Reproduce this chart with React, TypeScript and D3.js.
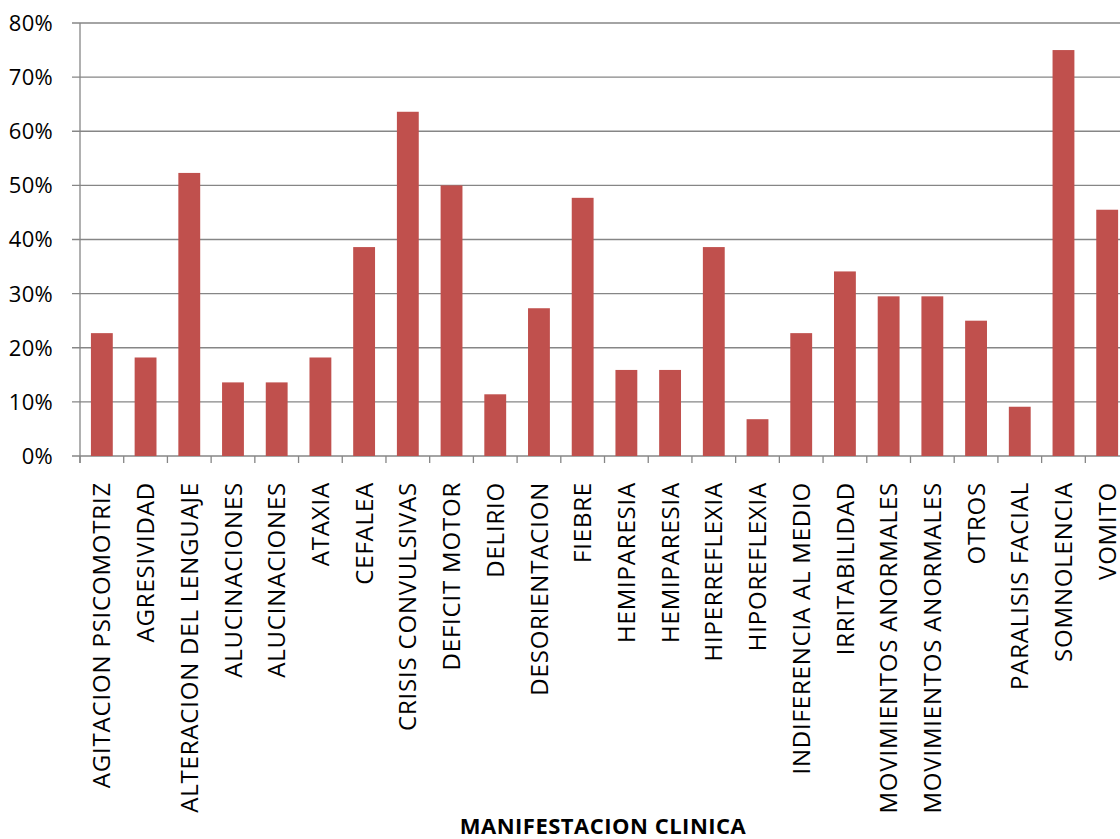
import React from "react";
import * as d3 from "d3";

const categories = [
  "AGITACION PSICOMOTRIZ",
  "AGRESIVIDAD",
  "ALTERACION DEL LENGUAJE",
  "ALUCINACIONES",
  "ALUCINACIONES",
  "ATAXIA",
  "CEFALEA",
  "CRISIS CONVULSIVAS",
  "DEFICIT MOTOR",
  "DELIRIO",
  "DESORIENTACION",
  "FIEBRE",
  "HEMIPARESIA",
  "HEMIPARESIA",
  "HIPERREFLEXIA",
  "HIPOREFLEXIA",
  "INDIFERENCIA AL MEDIO",
  "IRRITABILIDAD",
  "MOVIMIENTOS ANORMALES",
  "MOVIMIENTOS ANORMALES",
  "OTROS",
  "PARALISIS FACIAL",
  "SOMNOLENCIA",
  "VOMITO",
];

const values = [
  0.227, 0.182, 0.523, 0.136, 0.136, 0.182, 0.386, 0.636, 0.5, 0.114, 0.273, 0.477,
  0.159, 0.159, 0.386, 0.068, 0.227, 0.341, 0.295, 0.295, 0.25, 0.091, 0.75, 0.455,
];

const yTicks = [0, 0.1, 0.2, 0.3, 0.4, 0.5, 0.6, 0.7, 0.8];

const xAxisTitle = "MANIFESTACION CLINICA";

const W = 1120;
const H = 839;
const left = 80;
const top = 23;
const bottom = 456;
const bandW = 43.71;
const right = left + bandW * categories.length;

const FONT = "'Open Sans', sans-serif";

export default function App() {
  const ids = categories.map((_, i) => String(i));
  const x = d3.scaleBand<string>().domain(ids).range([left, right]).paddingInner(0.5).paddingOuter(0.25);
  const y = d3.scaleLinear().domain([0, 0.8]).range([bottom, top]);
  const fmt = d3.format(".0%");

  return (
    <svg
      width={W}
      height={H}
      style={{ position: "absolute", left: 0, top: 0, background: "#fff" }}
      fontFamily={FONT}
    >
      {yTicks.map((t) => (
        <g key={t}>
          <line x1={left - 8} x2={W + 20} y1={y(t)} y2={y(t)} stroke="#868686" strokeWidth={1.3} />
          <text x={53} y={y(t)} dy="0.36em" textAnchor="end" fontSize={22} letterSpacing={0.3} fill="#000">
            {fmt(t)}
          </text>
        </g>
      ))}
      <line x1={left} x2={left} y1={top} y2={bottom + 7} stroke="#868686" strokeWidth={1.3} />
      {d3.range(categories.length + 1).map((i) => (
        <line
          key={i}
          x1={left + i * bandW}
          x2={left + i * bandW}
          y1={bottom}
          y2={bottom + 7}
          stroke="#868686"
          strokeWidth={1.3}
        />
      ))}
      {values.map((v, i) => (
        <rect
          key={i}
          x={x(ids[i])}
          width={x.bandwidth()}
          y={y(v)}
          height={y(0) - y(v)}
          fill="#C0504D"
        />
      ))}
      {categories.map((c, i) => {
        const cx = (x(ids[i]) as number) + x.bandwidth() / 2;
        return (
          <text
            key={i}
            transform={`translate(${cx},482) rotate(-90)`}
            dy="0.36em"
            textAnchor="end"
            fontSize={24}
            letterSpacing={0.8}
            fill="#000"
          >
            {c}
          </text>
        );
      })}
      <text
        x={603}
        y={834}
        textAnchor="middle"
        fontSize={22}
        letterSpacing={0.5}
        fontWeight="bold"
        fill="#000"
      >
        {xAxisTitle}
      </text>
    </svg>
  );
}
